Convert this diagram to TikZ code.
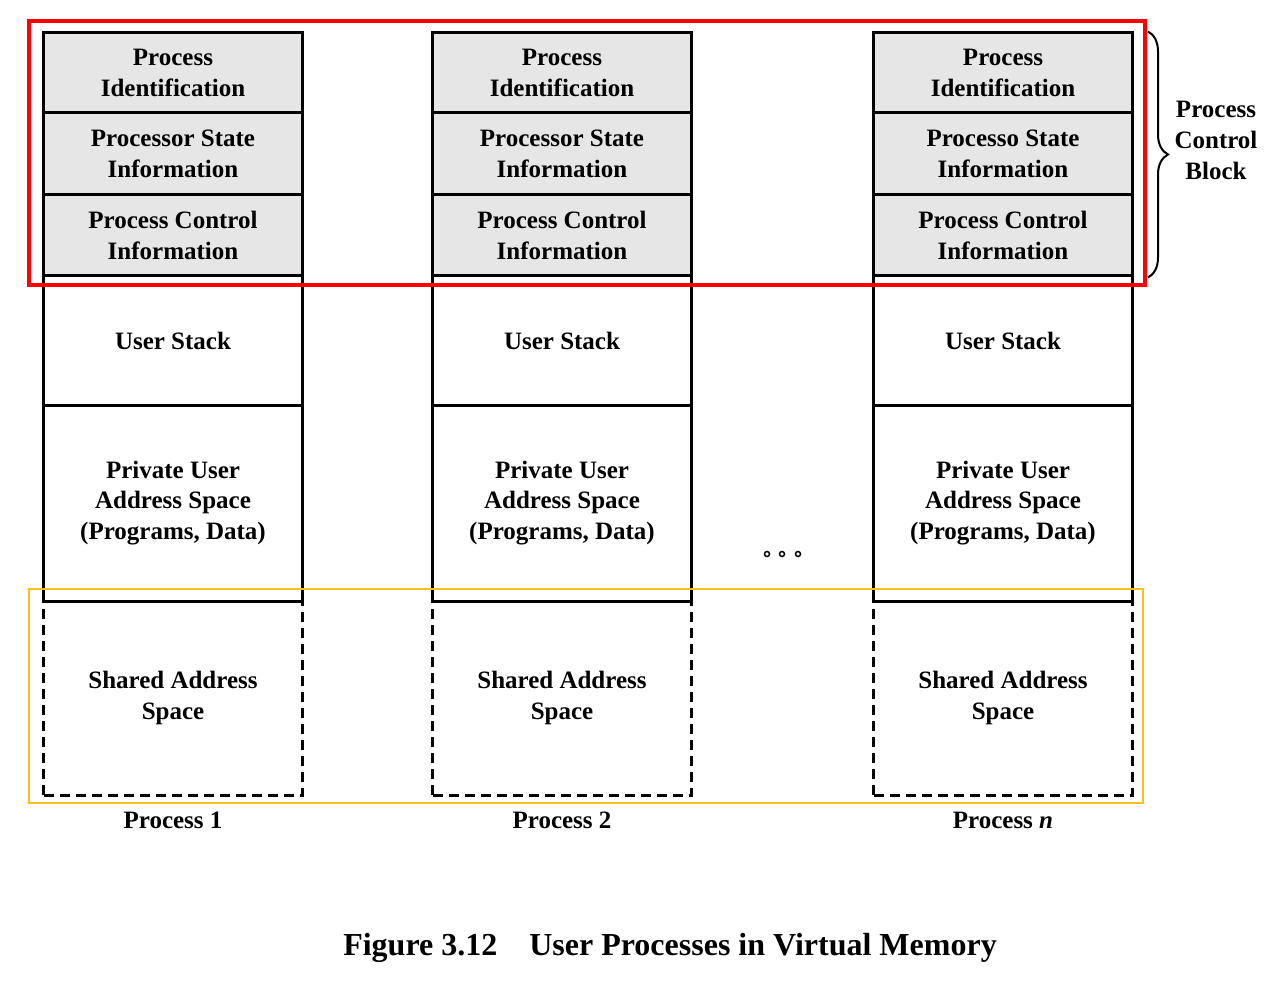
\documentclass[tikz,border=0pt]{standalone}
\usepackage{fontspec}
\setmainfont{Liberation Serif}
\usetikzlibrary{decorations.pathreplacing}
\definecolor{pcbgray}{RGB}{230,230,230}
\definecolor{shareline}{RGB}{250,190,30}
\tikzset{
    cell/.style={draw, line width=3pt, minimum width=259pt, inner sep=0pt, align=center,
        font=\bfseries\fontsize{25}{30.5}\selectfont},
    pcbcell/.style={cell, fill=pcbgray},
    sharedcell/.style={cell, dash pattern=on 10pt off 6pt},
    caption/.style={font=\bfseries\fontsize{25}{30}\selectfont},
}
\begin{document}
\begin{tikzpicture}[x=1pt,y=-1pt]
    \useasboundingbox (0,0) rectangle (1275,987);
    \foreach \c/\x/\num/\st in {
        1/173/1/Processor,
        2/562/2/Processor,
        3/1003/\textit{n}/Processo}{
            \node[sharedcell, minimum height=194pt] (sh\c) at (\x,698) {Shared Address\\Space};
            \node[cell, minimum height=196pt] (pv\c) at (\x,503) {Private User\\Address Space\\(Programs, Data)};
            \node[cell, minimum height=129pt] (us\c) at (\x,340.5) {User Stack};
            \node[pcbcell, minimum height=81pt] (pci\c) at (\x,235.5) {Process Control\\Information};
            \node[pcbcell, minimum height=82pt] (psi\c) at (\x,154) {\st\ State\\Information};
            \node[pcbcell, minimum height=80pt] (id\c) at (\x,73) {Process\\Identification};
            \node[caption] (lab\c) at (\x,820) {Process \num};
        }
    % dots between process 2 and n
    \foreach \d in {767,782,798}
        \draw[line width=1.5pt] (\d,554) circle (2.5pt);
    % process control block
    \draw[decorate, decoration={brace, amplitude=20pt}, line width=2pt]
        ([xshift=14pt]id3.north east) -- ([xshift=14pt]pci3.south east);
    \node[caption, align=center, font=\bfseries\fontsize{25}{31}\selectfont] (pcb) at (1216,140) {Process\\Control\\Block};
    \draw[shareline, line width=1.2pt] (29,589) rectangle (1143,803);
    \draw[red, line width=4pt] (29,21) rectangle (1145,285);
    \node[font=\bfseries\fontsize{32}{36}\selectfont] (fig) at (670,948) {Figure 3.12\enspace\enspace User Processes in Virtual Memory};
\end{tikzpicture}
\end{document}
